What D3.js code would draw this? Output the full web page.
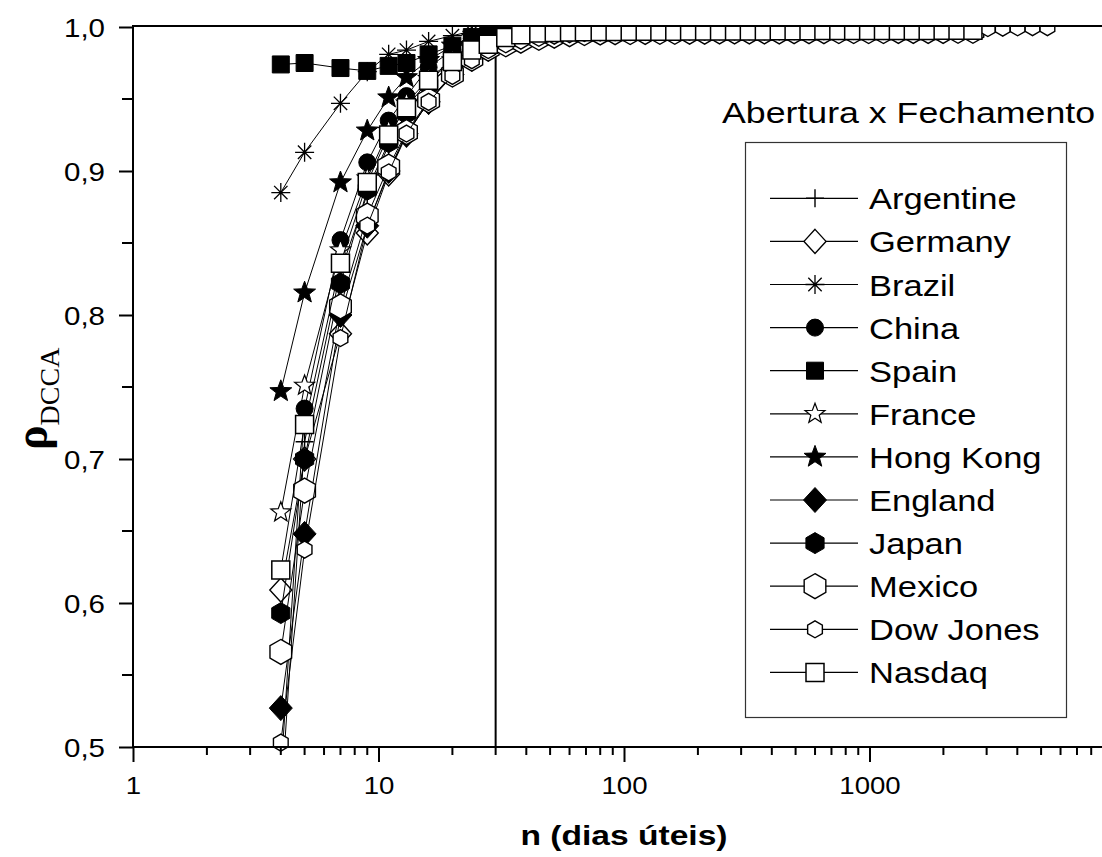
<!DOCTYPE html>
<html><head><meta charset="utf-8">
<script src="https://cdn.jsdelivr.net/npm/d3@7"></script>
<style>body{margin:0;background:#fff} svg{display:block}</style>
</head><body>
<svg id="c" width="1102" height="857"></svg>
<script>
// ---- data ----
const N = [4,5,7,9,11,13,16,20,24,28,33,38,45,52,60,69,80,92,106,122,140,161,185,213,245,282,324,373,429,493,567,652,750,862,992,1140,1311,1508,1734,1995,2294,2638,3034,3489,4012,4614,5306];
const seriesNames = ["Argentine","Germany","Brazil","China","Spain","France","Hong Kong","England","Japan","Mexico","Dow Jones","Nasdaq"];
const argentine = [0.46,0.712,0.830,0.884,0.918,0.940,0.960,0.975,0.984,0.989,0.992,0.994,0.995,0.996,0.9965,0.997,0.997,0.9972,0.9974,0.9975,0.9976,0.9977,0.9978,0.9978,0.9979,0.998,0.998,0.998,0.9981,0.9981,0.9982,0.9982,0.9982,0.9983,0.9983,0.9983,0.9984,0.9984,0.9984,0.9985];
const germany = [0.609,0.700,0.787,0.857,0.898,0.925,0.948,0.967,0.978,0.985,0.989,0.992,0.994,0.995,0.996,0.9965,0.997,0.9972,0.9974,0.9975,0.9976,0.9977,0.9977,0.9978,0.9979,0.9979,0.998,0.998,0.9981,0.9981,0.9981,0.9982,0.9982,0.9983,0.9983,0.9983,0.9984,0.9984,0.9984,0.9985,0.9985];
const brazil = [0.885,0.913,0.947,0.969,0.981,0.984,0.990,0.994,0.997,0.998,0.9985,0.9988,0.999,0.999,0.9991,0.9992,0.9992,0.9993,0.9993,0.9993,0.9994,0.9994,0.9994,0.9995,0.9995,0.9995,0.9995,0.9996,0.9996,0.9996,0.9996,0.9996,0.9997,0.9997,0.9997,0.9997,0.9997,0.9997,0.9998];
const china = [0.48,0.735,0.852,0.906,0.935,0.952,0.972,0.984,0.992,0.995,0.996,0.9968,0.9972,0.9975,0.9977,0.9978,0.9979,0.998,0.998,0.9981,0.9982,0.9982,0.9983,0.9983,0.9984,0.9984,0.9984,0.9985,0.9985,0.9985,0.9986,0.9986,0.9986,0.9986,0.9987,0.9987,0.9987,0.9987,0.9988,0.9988,0.9988];
const spain = [0.974,0.975,0.9715,0.9695,0.973,0.975,0.981,0.987,0.993,0.995,0.996,0.9968,0.9972,0.9975,0.9977,0.9978,0.9979,0.998,0.998,0.9981,0.9982,0.9982,0.9983,0.9983,0.9984,0.9984,0.9984,0.9985,0.9985,0.9985,0.9986,0.9986,0.9986,0.9986,0.9987,0.9987,0.9987,0.9987,0.9988,0.9988];
const france = [0.663,0.751,0.845,0.895,0.928,0.947,0.964,0.977,0.985,0.990,0.993,0.995,0.996,0.9966,0.997,0.9973,0.9975,0.9976,0.9977,0.9978,0.9979,0.998,0.998,0.9981,0.9981,0.9982,0.9982,0.9983,0.9983,0.9983,0.9984,0.9984,0.9984,0.9985,0.9985,0.9985,0.9985,0.9986,0.9986,0.9986,0.9986];
const hongKong = [0.747,0.8155,0.892,0.928,0.951,0.965,0.977,0.987,0.993,0.996,0.997,0.9975,0.9978,0.998,0.9981,0.9982,0.9983,0.9984,0.9984,0.9985,0.9985,0.9986,0.9986,0.9986,0.9987,0.9987,0.9987,0.9988,0.9988,0.9988,0.9988,0.9989,0.9989,0.9989,0.9989,0.999,0.999,0.999,0.999,0.999];
const england = [0.527,0.648,0.80,0.862,0.90,0.926,0.948,0.967,0.978,0.985,0.989,0.992,0.994,0.995,0.996,0.9965,0.997,0.9972,0.9974,0.9975,0.9976,0.9977,0.9977,0.9978,0.9978,0.9979,0.9979,0.998,0.998,0.998,0.9981,0.9981,0.9981,0.9982,0.9982,0.9982,0.9982,0.9983,0.9983,0.9983,0.9983,0.9984];
const japan = [0.593,0.700,0.822,0.887,0.920,0.940,0.960,0.975,0.984,0.989,0.992,0.994,0.995,0.996,0.9965,0.997,0.9972,0.9974,0.9975,0.9976,0.9977,0.9978,0.9978,0.9979,0.9979,0.998,0.998,0.9981,0.9981,0.9981,0.9982,0.9982,0.9982,0.9983,0.9983,0.9983,0.9983,0.9984,0.9984,0.9984,0.9984];
const mexico = [0.566,0.678,0.806,0.869,0.903,0.927,0.949,0.967,0.978,0.985,0.988,0.9905,0.9925,0.994,0.995,0.9958,0.9962,0.9964,0.9965,0.9966,0.9967,0.9967,0.9968,0.9968,0.9969,0.9969,0.997,0.997,0.997,0.9971,0.9971,0.9971,0.9972,0.9972,0.9972,0.9972,0.9973,0.9973,0.9973,0.9973,0.9974,0.9974];
const dowJones = [0.503,0.637,0.784,0.862,0.899,0.926,0.948,0.966,0.977,0.984,0.988,0.9905,0.9925,0.994,0.995,0.9958,0.9962,0.9964,0.9965,0.9966,0.9967,0.9967,0.9968,0.9968,0.9969,0.9969,0.997,0.997,0.997,0.9971,0.9971,0.9971,0.9972,0.9972,0.9972,0.9973,0.9973,0.9974,0.9975,0.9976,0.9978,0.9985,0.9993,0.9996,0.9998,0.9999,0.9999];
const nasdaq = [0.623,0.724,0.836,0.892,0.925,0.944,0.963,0.976,0.984,0.988,0.9927,0.9947,0.9958,0.9962,0.9965,0.9967,0.9968,0.9969,0.997,0.997,0.9971,0.9971,0.9972,0.9972,0.9972,0.9973,0.9973,0.9973,0.9974,0.9974,0.9974,0.9975,0.9975,0.9975,0.9975,0.9976,0.9976,0.9976,0.9976,0.9977,0.9977,0.9977];
const seriesValues = [argentine,germany,brazil,china,spain,france,hongKong,england,japan,mexico,dowJones,nasdaq];
const seriesSymbols = ["plus","diamondOpen","asterisk","circleFilled","squareFilled","starOpen","starFilled","diamondFilled","hexFilled","hexOpen","hexSmall","squareOpen"];
const xTickValues = [1,10,100,1000];
const xTickLabels = ["1","10","100","1000"];
const yTickValues = [0.5,0.6,0.7,0.8,0.9,1.0];
const yTickLabels = ["0,5","0,6","0,7","0,8","0,9","1,0"];
const yMinorValues = [0.55,0.65,0.75,0.85,0.95];
const refLineN = 30;
const legendTitle = "Abertura x Fechamento";
const xTitle = "n (dias úteis)";

// ---- layout ----
const L = 133, R = 1102, T = 27, B = 747;
const x = d3.scaleLog().domain([1,10000]).range([L, L + 4*245.5]);
const y = d3.scaleLinear().domain([0.5,1.0]).range([B, T]);
const svg = d3.select("#c");
const SANS = "'Liberation Sans', Arial, sans-serif";
const SERIF = "'Liberation Serif', 'Times New Roman', serif";

const defs = svg.append("defs");
defs.append("clipPath").attr("id","clipL").append("rect").attr("x",L).attr("y",T).attr("width",R-L).attr("height",B-T);
defs.append("clipPath").attr("id","clipM").append("rect").attr("x",L).attr("y",T).attr("width",R-L).attr("height",B-T+13);

function star(Ro, Ri){
  const p=[]; for(let k=0;k<10;k++){const a=-Math.PI/2+k*Math.PI/5; const r=k%2?Ri:Ro; p.push([r*Math.cos(a), r*Math.sin(a)]);}
  return "M"+p.map(q=>q[0].toFixed(2)+","+q[1].toFixed(2)).join("L")+"Z";
}
function hex(r){
  const p=[]; for(let k=0;k<6;k++){const a=-Math.PI/2+k*Math.PI/3; p.push([r*Math.cos(a), r*Math.sin(a)]);}
  return "M"+p.map(q=>q[0].toFixed(2)+","+q[1].toFixed(2)).join("L")+"Z";
}
const SYM = {
  plus:{d:"M-9,0H9M0,-9V9", fill:"none", sw:1.4},
  diamondOpen:{d:"M0,-12L11,0L0,12L-11,0Z", fill:"#fff", sw:1.4},
  asterisk:{d:"M0,-9.5V9.5M-9.5,0H9.5M-6.7,-6.7L6.7,6.7M-6.7,6.7L6.7,-6.7", fill:"none", sw:1.3},
  circleFilled:{d:d3.symbol().type(d3.symbolCircle).size(Math.PI*8.5*8.5)(), fill:"#000", sw:1},
  squareFilled:{d:"M-8.5,-8.5h17v17h-17Z", fill:"#000", sw:1},
  starOpen:{d:star(10.5,4.4), fill:"#fff", sw:1.2},
  starFilled:{d:star(11.5,4.8), fill:"#000", sw:1},
  diamondFilled:{d:"M0,-12.5L11.5,0L0,12.5L-11.5,0Z", fill:"#000", sw:1},
  hexFilled:{d:hex(10.5), fill:"#000", sw:1},
  hexOpen:{d:hex(12.5), fill:"#fff", sw:1.4},
  hexSmall:{d:hex(8.5), fill:"#fff", sw:1.4},
  squareOpen:{d:"M-9,-9h18v18h-18Z", fill:"#fff", sw:1.5}
};
function drawSym(g, key){
  const s = SYM[key];
  return g.append("path").attr("d", s.d).attr("fill", s.fill).attr("stroke","#000").attr("stroke-width", s.sw);
}

// top frame
svg.append("line").attr("x1",L).attr("x2",R).attr("y1",T-1).attr("y2",T-1).attr("stroke","#000").attr("stroke-width",2);
// reference vertical line
svg.append("line").attr("x1",x(refLineN)).attr("x2",x(refLineN)).attr("y1",T).attr("y2",B).attr("stroke","#000").attr("stroke-width",2);

// series
const line = d3.line().x(d=>x(d.n)).y(d=>y(d.v));
const dataG = svg.append("g");
seriesValues.forEach((vals, si) => {
  const pts = vals.map((v,i)=>({n:N[i], v}));
  const g = dataG.append("g");
  g.append("path").attr("clip-path","url(#clipL)").attr("d", line(pts)).attr("fill","none").attr("stroke","#000").attr("stroke-width",1);
  const mg = g.append("g").attr("clip-path","url(#clipM)");
  pts.forEach(p => {
    drawSym(mg.append("g").attr("transform",`translate(${x(p.n)},${y(p.v)})`), seriesSymbols[si]);
  });
});

// axes
const gx = svg.append("g").attr("transform",`translate(0,${B})`);
gx.call(d3.axisBottom(x).tickValues(xTickValues).tickFormat((d,i)=>xTickLabels[i]).tickSize(15).tickSizeOuter(0));
const minorX = x.ticks().filter(d => !xTickValues.includes(d) && x(d) <= R);
gx.call(g => g.selectAll(".minor").data(minorX).join("line").attr("class","minor")
  .attr("x1",d=>x(d)).attr("x2",d=>x(d)).attr("y1",0).attr("y2",8).attr("stroke","#000").attr("stroke-width",2));
gx.select(".domain").remove();
gx.selectAll(".tick line").attr("stroke-width",2);
gx.selectAll(".tick text").attr("y",null).attr("dy",null).attr("fill","#000")
  .attr("font-family",SANS).attr("font-size",24).attr("transform","translate(0,47) scale(1.15,1)");

const gy = svg.append("g").attr("transform",`translate(${L},0)`);
gy.call(d3.axisLeft(y).tickValues(yTickValues).tickFormat((d,i)=>yTickLabels[i]).tickSize(14).tickSizeOuter(0));
gy.call(g => g.selectAll(".minor").data(yMinorValues).join("line").attr("class","minor")
  .attr("x1",0).attr("x2",-11).attr("y1",d=>y(d)).attr("y2",d=>y(d)).attr("stroke","#000").attr("stroke-width",2));
gy.select(".domain").remove();
gy.selectAll(".tick line").attr("stroke-width",2);
gy.selectAll(".tick text").attr("x",null).attr("dy",null).attr("fill","#000")
  .attr("font-family",SANS).attr("font-size",25).attr("text-anchor","end")
  .attr("transform","translate(-28,9) scale(1.18,1)");

svg.append("line").attr("x1",L).attr("x2",L).attr("y1",T-2).attr("y2",B+1).attr("stroke","#000").attr("stroke-width",2);
svg.append("line").attr("x1",L-1).attr("x2",R).attr("y1",B).attr("y2",B).attr("stroke","#000").attr("stroke-width",2);

// axis titles
svg.append("text").attr("transform","translate(624,845) scale(1.2,1)").attr("text-anchor","middle")
  .attr("font-family",SANS).attr("font-weight","bold").attr("font-size",28).text(xTitle);
const yt = svg.append("text").attr("transform","translate(47,450) rotate(-90)").attr("font-family",SERIF);
yt.append("tspan").attr("font-size",46).attr("font-weight","bold").text("ρ");
yt.append("tspan").attr("font-size",28).attr("dy",12).text("DCCA");

// legend
svg.append("text").attr("transform","translate(722,123) scale(1.19,1)").attr("font-family",SANS).attr("font-size",30).text(legendTitle);
svg.append("rect").attr("x",745.5).attr("y",142.5).attr("width",321).attr("height",575).attr("fill","none").attr("stroke","#333").attr("stroke-width",1.2);
seriesNames.forEach((name,i)=>{
  const cy = 198.3 + 43.1*i;
  const g = svg.append("g").attr("transform",`translate(0,${cy})`);
  g.append("line").attr("x1",770).attr("x2",858).attr("y1",0).attr("y2",0).attr("stroke","#000").attr("stroke-width",1.2);
  drawSym(g.append("g").attr("transform","translate(815,0)"), seriesSymbols[i]);
  g.append("text").attr("transform","translate(869,11) scale(1.15,1)").attr("font-family",SANS).attr("font-size",30).text(name);
});
</script>
</body></html>
